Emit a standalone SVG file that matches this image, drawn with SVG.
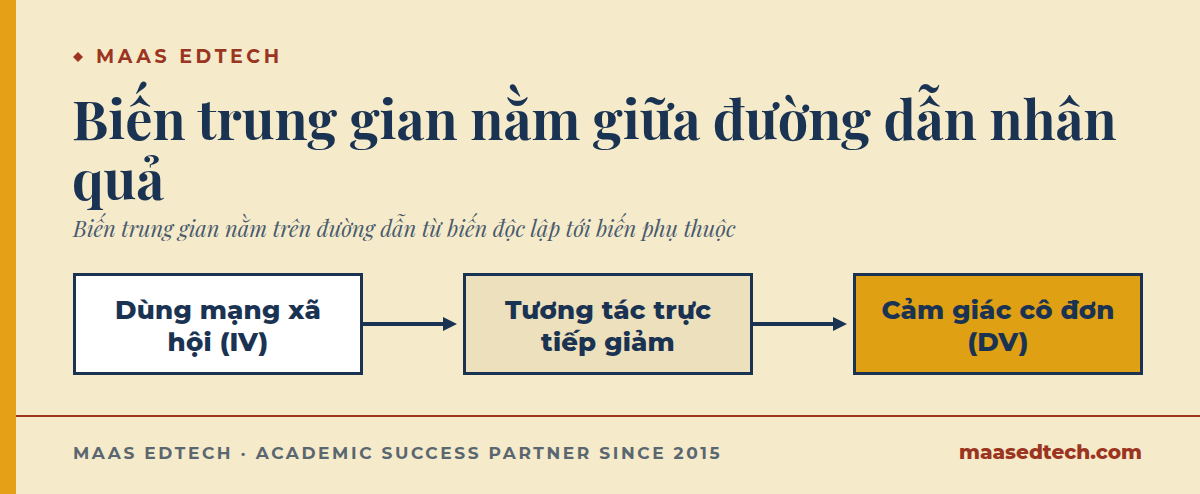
<svg xmlns="http://www.w3.org/2000/svg" width="1200" height="494" viewBox="0 0 1200 494">
<defs>
<style>
.node rect{stroke:#1b3352;stroke-width:3}
.nt{font-family:Montserrat,"Open Sans","DejaVu Sans",sans-serif;font-weight:800;font-size:26px;letter-spacing:0.2px;fill:#1b3352;text-anchor:middle}
.conn line{stroke:#1b3352;stroke-width:4}
</style>
<marker id="ah" viewBox="0 0 10 10" refX="0" refY="5" markerWidth="14" markerHeight="14" markerUnits="userSpaceOnUse" orient="auto">
<path d="M0,0 L10,5 L0,10 Z" fill="#1b3352"/>
</marker>
</defs>
<rect width="1200" height="494" fill="#f5ebca"/>
<rect width="16" height="494" fill="#e5a017"/>
<path d="M78,52 L83,57 L78,62 L73,57 Z" fill="#9b3522"/>
<text x="96" y="63" font-family="Montserrat,'Open Sans',sans-serif" font-weight="700" font-size="19" letter-spacing="3.6" fill="#9b3522">MAAS EDTECH</text>
<text font-family="'Playfair Display','DejaVu Serif',serif" font-weight="700" font-size="54" fill="#1b3352"><tspan x="72" y="140">Biến trung gian nằm giữa đường dẫn nhân</tspan><tspan x="72" y="200">quả</tspan></text>
<text x="73" y="237" font-family="'Playfair Display','DejaVu Serif',serif" font-style="italic" font-size="22" fill="#4a5a6e">Biến trung gian nằm trên đường dẫn từ biến độc lập tới biến phụ thuộc</text>
<g class="conn">
<line x1="362" y1="324" x2="443" y2="324" marker-end="url(#ah)"/>
<line x1="752" y1="324" x2="833" y2="324" marker-end="url(#ah)"/>
</g>
<g id="n1" class="node"><rect x="74.5" y="274.5" width="287" height="99" fill="#ffffff"/><text class="nt"><tspan x="218" y="319">Dùng mạng xã</tspan><tspan x="218" y="351">hội (IV)</tspan></text></g>
<g id="n2" class="node"><rect x="464.5" y="274.5" width="287" height="99" fill="#ede0bc"/><text class="nt"><tspan x="608" y="319">Tương tác trực</tspan><tspan x="608" y="351">tiếp giảm</tspan></text></g>
<g id="n3" class="node"><rect x="854.5" y="274.5" width="287" height="99" fill="#e0a014"/><text class="nt"><tspan x="998" y="319">Cảm giác cô đơn</tspan><tspan x="998" y="351">(DV)</tspan></text></g>
<rect x="16" y="415" width="1184" height="2" fill="#9b3522"/>
<text x="73" y="459" font-family="Montserrat,'Open Sans',sans-serif" font-weight="700" font-size="17" letter-spacing="2.6" fill="#5a6670">MAAS EDTECH · ACADEMIC SUCCESS PARTNER SINCE 2015</text>
<text x="1142" y="459" text-anchor="end" font-family="Montserrat,'Open Sans',sans-serif" font-weight="800" font-size="20" fill="#9b3522">maasedtech.com</text>
</svg>
